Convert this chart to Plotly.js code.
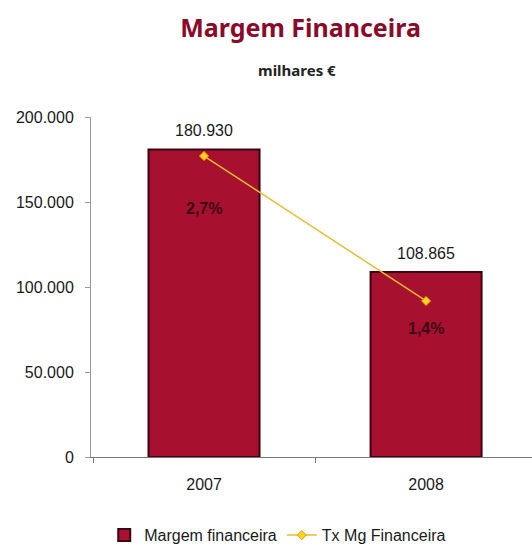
<!DOCTYPE html>
<html><head><meta charset="utf-8">
<script src="https://cdn.plot.ly/plotly-3.0.1.min.js"></script>
<style>body{margin:0;background:#fff}#c{width:532px;height:545px}</style>
</head><body><div id="c"></div>
<script>
const years = ['2007', '2008'];
const margem = [180930, 108865];
const taxa = [2.7, 1.4];
const taxaLabels = ['2,7%', '1,4%'];
const valueLabels = ['180.930', '108.865'];
const yTicks = [0, 50000, 100000, 150000, 200000];
const yTickText = ['0', '50.000', '100.000', '150.000', '200.000'];

const traces = [
  {type:'bar', x:years, y:margem, name:'Margem financeira', width:0.5,
   marker:{color:'#A8102F', line:{color:'#3A0410', width:2}}, hoverinfo:'skip'},
  {type:'scatter', mode:'lines+markers', x:years, y:taxa, yaxis:'y2', name:'Tx Mg Financeira',
   line:{color:'#E6BE30', width:1.5}, marker:{symbol:'diamond', size:7, color:'#FFD21F', line:{color:'#E09A10', width:1}}, hoverinfo:'skip'}
];

const annotations = [];
years.forEach((yr,i)=>{
  annotations.push({x:i, y:margem[i], xref:'x', yref:'y', text:valueLabels[i], showarrow:false,
    yanchor:'bottom', yshift:8, font:{family:'Liberation Sans, Arial', size:16, color:'#1a1a1a'}});
});
const shifts = [-52, -28];
years.forEach((yr,i)=>{
  annotations.push({x:i, y:taxa[i], xref:'x', yref:'y2', text:'<b>'+taxaLabels[i]+'</b>', showarrow:false,
    yshift:shifts[i], font:{family:'Liberation Sans, Arial', size:16, color:'#3a0a14'}});
});
annotations.push({xref:'paper', yref:'paper', x:0.468, y:1.0, yanchor:'bottom', yshift:35,
  text:'<b>milhares €</b>', showarrow:false, font:{family:'Noto Sans', size:15, color:'#222'}});

const layout = {
  width:532, height:545,
  margin:{l:91, r:0, t:117, b:88},
  paper_bgcolor:'#fff', plot_bgcolor:'#fff',
  separators:',.',
  title:{text:'<b>Margem Financeira</b>', x:0.565, xanchor:'center', y:0.965, yanchor:'top',
    font:{family:'Noto Sans', size:25, color:'#8B0A2A'}},
  xaxis:{type:'category', range:[-0.509, 1.477], showline:true, linecolor:'#777', linewidth:1,
    ticks:'outside', tickson:'boundaries', ticklen:5, tickcolor:'#777', showgrid:false,
    ticklabelstandoff:13,
    tickfont:{family:'Liberation Sans, Arial', size:16, color:'#1a1a1a'}, fixedrange:true},
  yaxis:{range:[0,200000], tickvals:yTicks, ticktext:yTickText, showline:true, linecolor:'#999',
    linewidth:1, ticks:'outside', ticklen:5, tickcolor:'#999', showgrid:false, zeroline:false,
    ticklabelstandoff:8,
    tickfont:{family:'Liberation Sans, Arial', size:16, color:'#1a1a1a'}, fixedrange:true},
  yaxis2:{overlaying:'y', range:[0,3.05], visible:false, fixedrange:true},
  showlegend:true,
  legend:{orientation:'h', x:0.03, xanchor:'left', yref:'container', y:0.018, yanchor:'middle',
    font:{family:'Liberation Sans, Arial', size:16, color:'#1a1a1a'}},
  annotations:annotations,
  bargap:0.5
};
Plotly.newPlot('c', traces, layout, {staticPlot:true});
</script></body></html>
